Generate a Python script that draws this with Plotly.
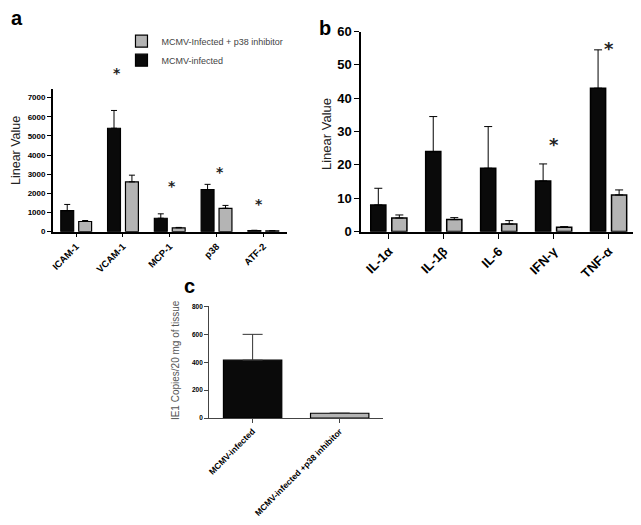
import plotly.graph_objects as go

# panel a - adhesion molecules / signalling
a_cats = ["ICAM-1", "VCAM-1", "MCP-1", "p38", "ATF-2"]
a_inf = [1100, 5400, 700, 2200, 60]
a_inf_err = [1420, 6330, 930, 2470, 70]
a_inh = [530, 2600, 200, 1220, 40]
a_inh_err = [580, 2950, 220, 1370, 45]
a_star_cats = ["VCAM-1", "MCP-1", "p38", "ATF-2"]
a_star_y = [8270, 2390, 3140, 1440]

# panel b - cytokines
b_cats = ["IL-1α", "IL-1β", "IL-6", "IFN-γ", "TNF-α"]
b_inf = [8, 24, 19, 15.2, 43]
b_inf_err = [13, 34.5, 31.5, 20.3, 54.5]
b_inh = [4.1, 3.6, 2.3, 1.3, 11]
b_inh_err = [5, 4.2, 3.3, 1.5, 12.5]
b_star_cats = ["IFN-γ", "TNF-α"]
b_star_y = [26, 55]

# panel c - viral load
c_cats = ["MCMV-infected", "MCMV-infected +p38 inhibitor"]
c_vals = [415, 35]
c_err = [600, 35]

BLACK = "#0a0a0a"
GRAY = "#b4b4b4"
FONT = "Liberation Sans, Arial, sans-serif"
W, H = 641, 525
OFF = 8  # page body margin shifts the whole figure, so compensate


def px_x(v):
    return (v - OFF) / W


def px_y(v):
    return 1 - (v - OFF) / H


def up(tops, vals):
    return [t - v for t, v in zip(tops, vals)]


A_RANGE = [0, 7460]
A_DOM = [px_y(231), px_y(84)]

fig = go.Figure()

# panel a
fig.add_trace(go.Bar(x=a_cats, y=a_inf, name="MCMV-infected", marker=dict(color=BLACK, line=dict(color="black", width=1.2)),
                     error_y=dict(type="data", symmetric=False, array=up(a_inf_err, a_inf), arrayminus=[0] * 5,
                                  color="black", thickness=1, width=3),
                     xaxis="x", yaxis="y"))
fig.add_trace(go.Bar(x=a_cats, y=a_inh, name="MCMV-Infected + p38 inhibitor",
                     marker=dict(color=GRAY, line=dict(color="black", width=1.2)),
                     error_y=dict(type="data", symmetric=False, array=up(a_inh_err, a_inh), arrayminus=[0] * 5,
                                  color="black", thickness=1, width=3),
                     xaxis="x", yaxis="y"))

# panel b
fig.add_trace(go.Bar(x=b_cats, y=b_inf, showlegend=False, marker=dict(color=BLACK, line=dict(color="black", width=1.5)),
                     error_y=dict(type="data", symmetric=False, array=up(b_inf_err, b_inf), arrayminus=[0] * 5,
                                  color="black", thickness=1, width=4),
                     xaxis="x2", yaxis="y2"))
fig.add_trace(go.Bar(x=b_cats, y=b_inh, showlegend=False, marker=dict(color=GRAY, line=dict(color="black", width=1.5)),
                     error_y=dict(type="data", symmetric=False, array=up(b_inh_err, b_inh), arrayminus=[0] * 5,
                                  color="black", thickness=1, width=4),
                     xaxis="x2", yaxis="y2"))

# panel c
fig.add_trace(go.Bar(x=c_cats, y=c_vals, showlegend=False, width=0.67,
                     marker=dict(color=[BLACK, GRAY], line=dict(color="black", width=1.2)),
                     error_y=dict(type="data", symmetric=False, array=up(c_err, c_vals), arrayminus=[0, 0],
                                  color="#333", thickness=1, width=10),
                     xaxis="x3", yaxis="y3"))

axis_common = dict(showline=True, linecolor="black", showgrid=False, zeroline=False,
                   ticks="outside", tickcolor="black", fixedrange=True)

fig.update_layout(
    width=W, height=H, autosize=False,
    margin=dict(l=0, r=0, t=0, b=0),
    paper_bgcolor="white", plot_bgcolor="white",
    font=dict(family=FONT, color="black"),
    barmode="group", bargap=0.234, bargroupgap=0.28,
    legend=dict(x=px_x(119), y=px_y(20), xanchor="left", yanchor="top", traceorder="reversed",
                font=dict(size=9, color="#444"), bgcolor="rgba(0,0,0,0)", tracegroupgap=0,
                itemwidth=30),
    xaxis=dict(axis_common, domain=[px_x(50), px_x(285)], anchor="y", tickangle=-45, linewidth=1.5, ticklen=4,
               tickfont=dict(size=9.5, weight="bold")),
    yaxis=dict(axis_common, domain=A_DOM, anchor="x", range=A_RANGE, linewidth=1.5, ticklen=4,
               tickvals=[0, 1000, 2000, 3000, 4000, 5000, 6000, 7000], tickfont=dict(size=8, weight="bold")),
    xaxis2=dict(axis_common, domain=[px_x(360), px_x(636)], anchor="y2", tickangle=-45, linewidth=2, ticklen=5,
                tickfont=dict(size=13, weight="bold")),
    yaxis2=dict(axis_common, domain=[px_y(231), px_y(25)], anchor="x2", range=[0, 60], linewidth=2, ticklen=5,
                dtick=10, tickfont=dict(size=13, weight="bold")),
    xaxis3=dict(axis_common, domain=[px_x(207), px_x(382)], anchor="y3", tickangle=-45, linewidth=1, ticklen=4,
                linecolor="#444", tickcolor="#444", tickfont=dict(size=8.5, weight="bold")),
    yaxis3=dict(axis_common, domain=[px_y(423), px_y(308)], anchor="x3", range=[0, 800], linewidth=1, ticklen=4,
                linecolor="#444", tickcolor="#444", dtick=200, tickfont=dict(size=6.5, weight="bold")),
)

ann = []
# significance stars (panel a: the VCAM-1 star sits above the axis range, so place it in paper space)
a_star_shift = [-6, 2, 3, -4]
for c, y, s in zip(a_star_cats, a_star_y, a_star_shift):
    yp = A_DOM[0] + (y - A_RANGE[0]) / (A_RANGE[1] - A_RANGE[0]) * (A_DOM[1] - A_DOM[0])
    ann.append(dict(x=c, y=yp, xref="x", yref="paper", text="*", showarrow=False, xshift=s,
                    font=dict(family="DejaVu Sans", size=14, weight="bold", color="#222"),
                    xanchor="center", yanchor="middle"))
for c, y in zip(b_star_cats, b_star_y):
    ann.append(dict(x=c, y=y, xref="x2", yref="y2", text="*", showarrow=False,
                    font=dict(family="DejaVu Sans", size=18, weight="bold", color="#222"),
                    xanchor="center", yanchor="middle"))

# axis titles
ann.append(dict(x=px_x(13), y=px_y(147), xref="paper", yref="paper", text="Linear Value", textangle=-90,
                showarrow=False, font=dict(size=12.5, color="#222"), xanchor="center", yanchor="middle"))
ann.append(dict(x=px_x(325), y=px_y(131), xref="paper", yref="paper", text="Linear Value", textangle=-90,
                showarrow=False, font=dict(size=13, color="#222"), xanchor="center", yanchor="middle"))
ann.append(dict(x=px_x(174), y=px_y(363), xref="paper", yref="paper", text="IE1 Copies/20 mg of tissue",
                textangle=-90, showarrow=False, font=dict(size=10, color="#555"), xanchor="center",
                yanchor="middle"))

# panel letters
for t, x, y, ya in [("a", 14, 11, "middle"), ("b", 323, 8, "top"), ("c", 187, 287, "middle")]:
    ann.append(dict(x=px_x(x), y=px_y(y), xref="paper", yref="paper", text=t, showarrow=False,
                    font=dict(size=20, weight="bold", color="black"), xanchor="center", yanchor=ya))

fig.update_layout(annotations=ann)
fig.write_html("out.html")
